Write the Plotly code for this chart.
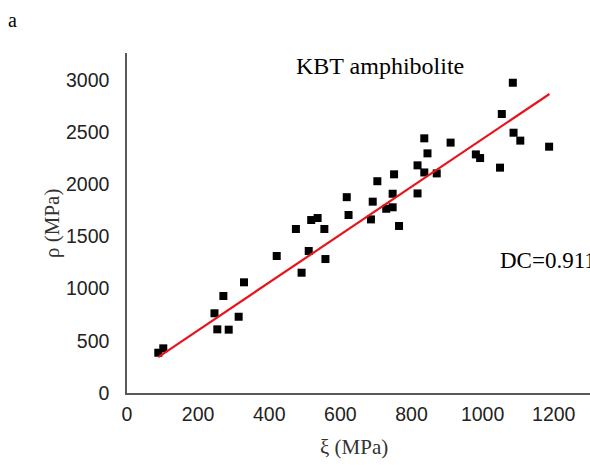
import plotly.graph_objects as go

# Data (xi, rho in MPa)
xi = [88, 102, 246, 254, 271, 286, 314, 329, 421, 475, 491, 511, 518, 536, 555, 558,
      618, 623, 686, 691, 704, 729, 747, 747, 751, 765, 817, 817, 836, 836, 845, 871,
      910, 981, 993, 1049, 1054, 1085, 1087, 1106, 1187]
rho = [386, 428, 764, 610, 930, 607, 731, 1061, 1313, 1572, 1153, 1361, 1658, 1677, 1572, 1284,
       1877, 1706, 1664, 1834, 2030, 1766, 1780, 1910, 2096, 1601, 2182, 1913, 2441, 2114, 2297, 2105,
       2400, 2287, 2252, 2160, 2674, 2974, 2495, 2419, 2361]

# Fitted line (as drawn in reference)
fit_slope = 2.292
fit_intercept = 143
fit_x = [88, 1188]
fit_y = [fit_slope * v + fit_intercept for v in fit_x]

x_ticks = [0, 200, 400, 600, 800, 1000, 1200]
y_ticks = [0, 500, 1000, 1500, 2000, 2500, 3000]

fig = go.Figure()
fig.add_trace(go.Scatter(x=xi, y=rho, mode="markers",
                         marker=dict(symbol="square", size=8, color="black"),
                         showlegend=False))
fig.add_trace(go.Scatter(x=fit_x, y=fit_y, mode="lines",
                         line=dict(color="#e8141c", width=2.2), showlegend=False))

axis_font = dict(family="Liberation Sans, Arial, sans-serif", size=19.5, color="#222222")
serif = "Liberation Serif, Times New Roman, serif"

fig.update_layout(
    width=590, height=465,
    margin=dict(l=127, r=0, t=53, b=72),
    paper_bgcolor="white", plot_bgcolor="white",
    xaxis=dict(range=[0, 1302], tickvals=x_ticks, ticktext=[str(v) for v in x_ticks],
               showgrid=False, zeroline=False, showline=True, linecolor="#595959",
               linewidth=1.5, ticks="", tickfont=axis_font, ticklabelstandoff=3),
    yaxis=dict(range=[0, 3259], tickvals=y_ticks, ticktext=[str(v) for v in y_ticks],
               showgrid=False, zeroline=False, showline=True, linecolor="#595959",
               linewidth=1.5, ticks="", tickfont=axis_font, ticklabelstandoff=12),
    annotations=[
        dict(text="a", x=-0.248, y=1.097, xref="paper", yref="paper", showarrow=False,
             xanchor="center", yanchor="middle", font=dict(family=serif, size=20, color="black")),
        dict(text="KBT amphibolite", x=0.546, y=0.962, xref="paper", yref="paper", showarrow=False,
             xanchor="center", yanchor="middle", font=dict(family=serif, size=24, color="black")),
        dict(text="DC=0.911", x=0.801, y=0.391, xref="paper", yref="paper", showarrow=False,
             xanchor="left", yanchor="middle", font=dict(family=serif, size=23, color="black")),
        dict(text="ξ (MPa)", x=(354 - 127) / 463, y=(393 - 447) / 340, xref="paper", yref="paper",
             showarrow=False, xanchor="center", yanchor="middle",
             font=dict(family=serif, size=21, color="#333333")),
        dict(text="ρ (MPa)", x=(52 - 127) / 463, y=(393 - 224) / 340, xref="paper", yref="paper",
             showarrow=False, xanchor="center", yanchor="middle", textangle=-90,
             font=dict(family=serif, size=21, color="#333333")),
    ],
)

fig.write_html("out.html")
